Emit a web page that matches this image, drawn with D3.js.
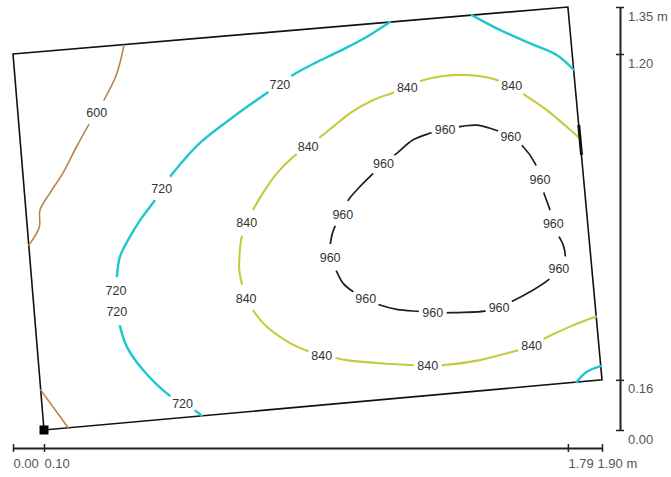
<!DOCTYPE html>
<html>
<head>
<meta charset="utf-8">
<script src="https://cdn.jsdelivr.net/npm/d3@7"></script>
<style>
  html, body { margin: 0; padding: 0; background: #fff; }
  svg { display: block; font-family: "Liberation Sans", Arial, sans-serif; }
</style>
</head>
<body>
<svg id="chart" width="671" height="477"></svg>
<script>
// Measured outline of the surface (metres): TL, TR, BR, BL
const outline = [[0.00, 1.20], [1.79, 1.35], [1.90, 0.16], [0.10, 0.00]];

// Axis ticks (metres)
const xTicks = [0.00, 0.10, 1.79, 1.90];
const yTicks = [0.00, 0.16, 1.20, 1.35];

// Contour levels
const levels = [600, 720, 840, 960];

// Isoline 600 (two pieces, left side)
const c600a = [[0.358, 1.228], [0.335, 1.138], [0.306, 1.076], [0.270, 1.013], [0.248, 0.980],
  [0.205, 0.904], [0.161, 0.820], [0.119, 0.756], [0.087, 0.702], [0.085, 0.648], [0.051, 0.590]];
const c600b = [[0.089, 0.128], [0.178, 0.007]];
const labels600 = [[0.270, 1.013]];

// Isoline 720 (main arc plus two corner pieces)
const c720a = [[1.216, 1.302], [1.135, 1.251], [1.055, 1.210], [0.974, 1.171], [0.903, 1.133],
  [0.861, 1.104], [0.818, 1.075], [0.710, 0.999], [0.603, 0.916], [0.516, 0.820], [0.480, 0.772],
  [0.458, 0.734], [0.410, 0.670], [0.371, 0.606], [0.345, 0.553], [0.335, 0.489], [0.332, 0.444],
  [0.333, 0.412], [0.335, 0.378], [0.340, 0.351], [0.367, 0.266], [0.419, 0.192], [0.496, 0.117],
  [0.547, 0.085], [0.593, 0.058], [0.609, 0.045]];
const c720b = [[1.480, 1.324], [1.560, 1.282], [1.668, 1.234], [1.754, 1.197], [1.809, 1.149]];
const c720c = [[1.896, 0.204], [1.851, 0.186], [1.818, 0.153]];
const labels720 = [[0.861, 1.104], [0.480, 0.772], [0.332, 0.444], [0.335, 0.378], [0.547, 0.085]];

// Isoline 840
const c840 = [[1.829, 0.931], [1.786, 0.968], [1.722, 1.021], [1.652, 1.069], [1.609, 1.098],
  [1.560, 1.117], [1.528, 1.126], [1.464, 1.133], [1.388, 1.130], [1.318, 1.115], [1.272, 1.094],
  [1.222, 1.075], [1.162, 1.053], [1.087, 1.011], [1.055, 0.986], [1.000, 0.942], [0.952, 0.906],
  [0.903, 0.871], [0.851, 0.819], [0.806, 0.756], [0.774, 0.702], [0.754, 0.662], [0.738, 0.617],
  [0.732, 0.575], [0.730, 0.511], [0.738, 0.468], [0.752, 0.421], [0.770, 0.388], [0.818, 0.330],
  [0.894, 0.277], [0.942, 0.255], [0.996, 0.237], [1.044, 0.229], [1.076, 0.223], [1.184, 0.213],
  [1.291, 0.207], [1.338, 0.205], [1.388, 0.207], [1.506, 0.223], [1.593, 0.245], [1.673, 0.269],
  [1.716, 0.293], [1.797, 0.330], [1.881, 0.362]];
const labels840 = [[1.609, 1.098], [1.272, 1.094], [0.952, 0.906], [0.754, 0.662], [0.752, 0.421],
  [0.996, 0.237], [1.338, 0.205], [1.673, 0.269]];

// Isoline 960 (closed loop) and the short piece running along the right edge
const c960 = [[1.394, 0.960], [1.453, 0.970], [1.496, 0.973], [1.539, 0.963], [1.606, 0.936],
  [1.646, 0.904], [1.684, 0.851], [1.700, 0.801], [1.711, 0.761], [1.732, 0.702], [1.743, 0.658],
  [1.759, 0.622], [1.775, 0.590], [1.781, 0.553], [1.761, 0.514], [1.727, 0.479], [1.668, 0.441],
  [1.609, 0.410], [1.568, 0.392], [1.528, 0.380], [1.394, 0.374], [1.354, 0.374], [1.313, 0.378],
  [1.238, 0.385], [1.184, 0.399], [1.138, 0.420], [1.098, 0.441], [1.065, 0.468], [1.039, 0.516],
  [1.023, 0.549], [1.024, 0.597], [1.035, 0.642], [1.064, 0.689], [1.082, 0.734], [1.109, 0.766],
  [1.157, 0.814], [1.195, 0.849], [1.238, 0.883], [1.291, 0.926], [1.345, 0.947]];
const c960edge = [[1.825, 0.974], [1.834, 0.878]];
const labels960 = [[1.394, 0.960], [1.606, 0.936], [1.700, 0.801], [1.743, 0.658], [1.761, 0.514],
  [1.568, 0.392], [1.354, 0.374], [1.138, 0.420], [1.023, 0.549], [1.064, 0.689], [1.195, 0.849]];

const isolines = [
  { level: 600, pieces: [c600a, c600b], closed: false, labels: labels600 },
  { level: 720, pieces: [c720a, c720b, c720c], closed: false, labels: labels720 },
  { level: 840, pieces: [c840], closed: false, labels: labels840 },
  { level: 960, pieces: [c960], closed: true, labels: labels960 }
];

// ---------------------------------------------------------------------------
const svg = d3.select("#chart");
const x = d3.scaleLinear().domain([0, 1.9]).range([13, 602]);
const y = d3.scaleLinear().domain([0, 1.35]).range([430, 7]);

const color = d3.scaleOrdinal().domain(levels).range(["#b9844a", "#1ec6d0", "#c6ca3e", "#1e1e1e"]);
const width = d3.scaleOrdinal().domain(levels).range([1.6, 2.4, 2.1, 1.7]);

const openLine = d3.line().x(d => x(d[0])).y(d => y(d[1])).curve(d3.curveCatmullRom.alpha(0.5));
const closedLine = d3.line().x(d => x(d[0])).y(d => y(d[1])).curve(d3.curveCatmullRomClosed.alpha(0.5));

const defs = svg.append("defs");
const gapRadius = 14;

// Boundary of the measured surface
svg.append("path")
  .attr("d", d3.line().x(d => x(d[0])).y(d => y(d[1])).curve(d3.curveLinearClosed)(outline))
  .attr("fill", "none")
  .attr("stroke", "#111")
  .attr("stroke-width", 1.6)
  .attr("stroke-linejoin", "miter");

// Contour lines, cut open where their labels sit
isolines.forEach(iso => {
  const id = "gap" + iso.level;
  const mask = defs.append("mask").attr("id", id)
    .attr("maskUnits", "userSpaceOnUse")
    .attr("x", 0).attr("y", 0).attr("width", 671).attr("height", 477);
  mask.append("rect").attr("width", 671).attr("height", 477).attr("fill", "#fff");
  mask.selectAll("circle").data(iso.labels).join("circle")
    .attr("cx", d => x(d[0])).attr("cy", d => y(d[1])).attr("r", gapRadius).attr("fill", "#000");

  svg.append("g").attr("mask", `url(#${id})`)
    .selectAll("path").data(iso.pieces).join("path")
    .attr("d", p => (iso.closed ? closedLine : openLine)(p))
    .attr("fill", "none")
    .attr("stroke", color(iso.level))
    .attr("stroke-width", width(iso.level))
    .attr("stroke-linecap", "round")
    .attr("stroke-linejoin", "round");

  svg.append("g").selectAll("text").data(iso.labels).join("text")
    .attr("x", d => x(d[0]))
    .attr("y", d => y(d[1]))
    .attr("dy", "0.36em")
    .attr("text-anchor", "middle")
    .attr("font-size", 12.5)
    .attr("fill", "#333")
    .text(iso.level);
});

// Short 960 segment hugging the right edge
svg.append("path")
  .attr("d", openLine(c960edge))
  .attr("stroke", "#111")
  .attr("stroke-width", 3)
  .attr("fill", "none");

// Origin marker at the lower-left corner
svg.append("rect")
  .attr("x", x(outline[3][0]) - 4.5)
  .attr("y", y(outline[3][1]) - 4.5)
  .attr("width", 9).attr("height", 9)
  .attr("fill", "#000");

// Axes
const fmt = (max) => d => d3.format(".2f")(d) + (d === max ? " m" : "");

const xAxis = svg.append("g")
  .attr("transform", "translate(0,448)")
  .call(d3.axisBottom(x).tickValues(xTicks).tickSizeInner(0).tickSizeOuter(0).tickFormat(fmt(1.90)));
xAxis.selectAll(".tick line").attr("y1", -4).attr("y2", 4);
xAxis.selectAll(".tick text")
  .attr("y", 20).attr("dy", null)
  .attr("dx", d => d === 1.90 ? -5 : 0)
  .attr("text-anchor", "start");

const yAxis = svg.append("g")
  .attr("transform", "translate(620,0)")
  .call(d3.axisRight(y).tickValues(yTicks).tickSizeInner(0).tickSizeOuter(0).tickFormat(fmt(1.35)));
yAxis.selectAll(".tick line").attr("x1", -4).attr("x2", 4);
yAxis.selectAll(".tick text")
  .attr("x", 8).attr("y", 13).attr("dy", null)
  .attr("text-anchor", "start");

[xAxis, yAxis].forEach(a => {
  a.attr("font-family", "Liberation Sans, Arial, sans-serif").attr("font-size", 13);
  a.select(".domain").attr("stroke", "#222").attr("stroke-width", 2);
  a.selectAll(".tick line").attr("stroke", "#222").attr("stroke-width", 1.5);
  a.selectAll(".tick text").attr("fill", "#555");
});
</script>
</body>
</html>
